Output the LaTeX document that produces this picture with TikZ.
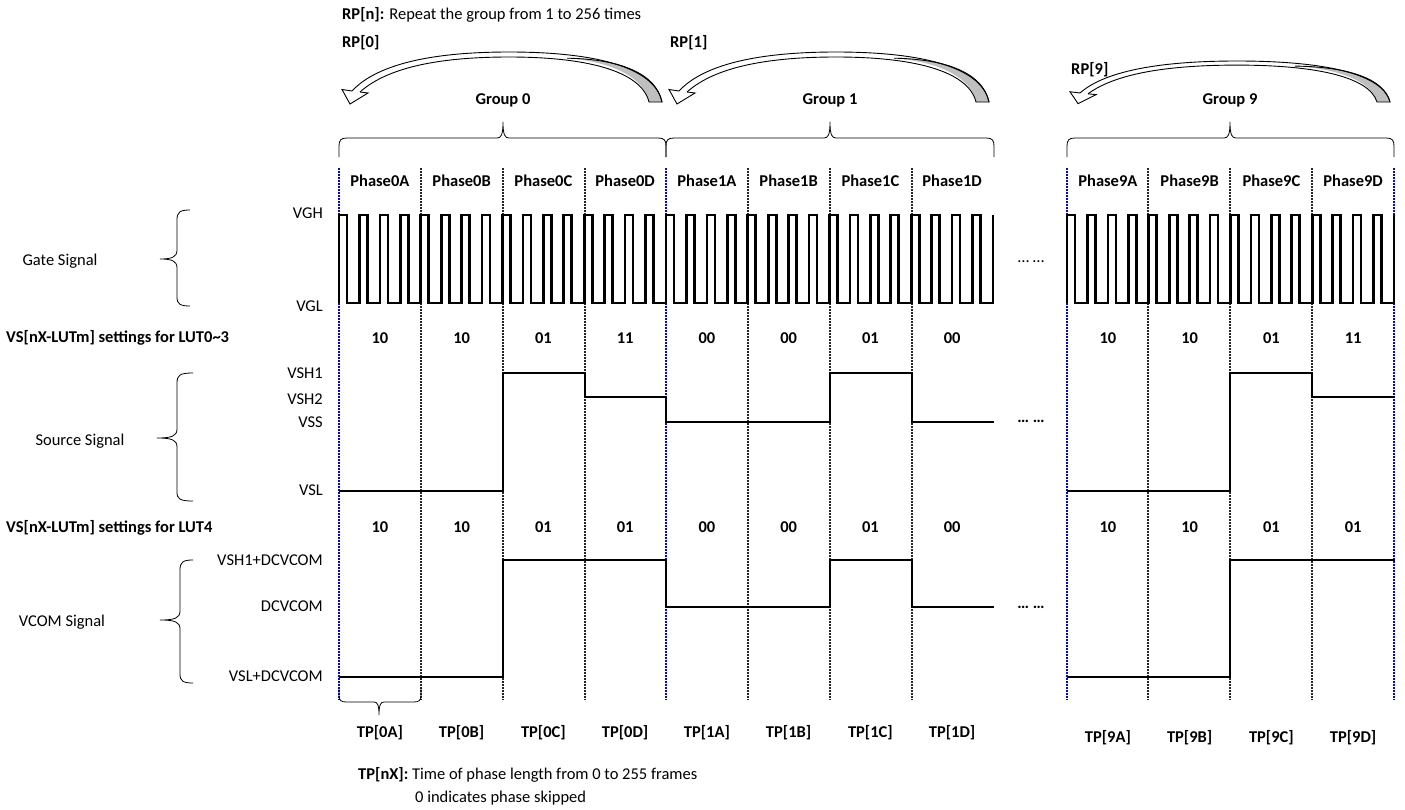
\documentclass[tikz,border=0pt]{standalone}
\usepackage{fontspec}
\setmainfont{Carlito}
\newcommand\myGrpArrow[2]{%
\begin{scope}[shift={(#1,102)}, yscale=#2, shift={(0,-102)}]
 \fill[gray!50] (228,58.2) .. controls (280,59) and (317,73) .. (323,102) -- (310,102) .. controls (305,78) and (275,62) .. (228,58.2) -- cycle;
 \draw[arr] (13,91) .. controls (40,62) and (100,52) .. (170,52) .. controls (250,52) and (315,65) .. (323,102) -- (310,102) .. controls (302,70) and (245,57) .. (170,57) .. controls (105,57) and (50,66) .. (21,92);
 \draw[arr] (13,91) -- (3,89.5) -- (11,104) -- (29,93) -- (21,92);
 \draw[arr] (228,58.2) .. controls (280,59) and (317,73) .. (323,102);
\end{scope}}
\newcommand\myTopBrace[3]{%
 \draw[brc] (#1,157) -- (#1,146) .. controls (#1,140) and (#1+2,138) .. (#1+8,138) -- (#2-6,138) .. controls (#2-2,138) and (#2,135) .. (#2,122) .. controls (#2,135) and (#2+2,138) .. (#2+6,138) -- (#3-8,138) .. controls (#3-2,138) and (#3,140) .. (#3,146) -- (#3,157);}
\newcommand\myLeftBrace[5]{%
 \draw[brc] (#1,#4) .. controls (#2+3,#4) and (#2,#4+2) .. (#2,#4+10) -- (#2,#5-9) .. controls (#2,#5-2) and (#2-5,#5) .. (#3,#5) .. controls (#2-5,#5) and (#2,#5+2) .. (#2,#5+9)}
\begin{document}
\begin{tikzpicture}[x=1pt,y=-1pt,
 t/.style={font=\fontsize{16.5}{19}\selectfont, inner sep=0pt},
 tb/.style={font=\fontsize{16.5}{19}\selectfont\bfseries, inner sep=0pt},
 sig/.style={line width=2.7pt, line join=miter},
 gdash/.style={line width=1.2pt, dash pattern=on 1.8pt off 1.2pt, black!85},
 bdash/.style={line width=1.3pt, dash pattern=on 1.8pt off 1.2pt, blue},
 brc/.style={line width=0.8pt},
 arr/.style={line width=0.9pt, line join=miter}]
\useasboundingbox (0,0) rectangle (1405,809);
\fill[white] (0,0) rectangle (1405,809);

% top texts
\node[t, anchor=west] (rpn) at (342,15) {\textbf{RP[n]:} Repeat the group from 1 to 256 times};
\node[tb, anchor=west] (rp0) at (342,43) {RP[0]};
\node[tb, anchor=west] (rp1) at (670,43) {RP[1]};
\node[tb, anchor=west] (rp9) at (1071,70) {RP[9]};
\myGrpArrow{339}{1}
\myGrpArrow{666}{1}
\myGrpArrow{1067}{0.82}
\node[tb] (g0) at (503,100) {Group 0};
\node[tb] (g1) at (830,100) {Group 1};
\node[tb] (g9) at (1230,100) {Group 9};
\myTopBrace{339}{503}{666}
\myTopBrace{666}{830}{994}
\myTopBrace{1067}{1230}{1394}

% vertical phase lines
\foreach \x in {421,503,585,748,830,912,1148,1230,1312}
 \draw[gdash] (\x,168) -- (\x,700);
\foreach \x in {339,666,1067,1394}
 \draw[bdash] (\x,168) -- (\x,700);

% phase labels
\foreach \p [count=\i from 0] in {0A,0B,0C,0D,1A,1B,1C,1D}
 \node[tb] (ph\p) at ({379.875+81.75*\i},181) {Phase\p};
\foreach \p [count=\i from 0] in {9A,9B,9C,9D}
 \node[tb] (ph\p) at ({1107.875+81.75*\i},181) {Phase\p};

% gate signal
\draw[sig] (339,303) \foreach \k in {0,...,31}{ -- ({339+\k*20.4375},303) -- ++(0,-88) -- ++(8,0) -- ++(0,88)} -- (993,303) -- (993,215);
\draw[sig] (1067,303) \foreach \k in {0,...,15}{ -- ({1067+\k*20.4375},303) -- ++(0,-88) -- ++(8,0) -- ++(0,88)} -- (1394,303) -- (1394,215);
\node[t] (gdots) at (1031,262) {…\ …};
\node[t, anchor=east] (vgh) at (323,213) {VGH};
\node[t, anchor=east] (vgl) at (323,306) {VGL};
\node[t] (gate) at (60,261) {Gate Signal};
\myLeftBrace{190}{177}{160}{210}{259} -- (177,297) .. controls (177,304) and (180,306) .. (190,306);

% LUT0~3 settings
\node[tb, anchor=west] (s03) at (6,338) {VS[nX-LUTm] settings for LUT0\textasciitilde3};
\foreach \v [count=\i from 0] in {10,10,01,11,00,00,01,00}
 \node[tb] (a\i) at ({379.875+81.75*\i},338) {\v};
\foreach \v [count=\i from 0] in {10,10,01,11}
 \node[tb] (b\i) at ({1107.875+81.75*\i},338) {\v};

% source signal
\node[t, anchor=east] (vsh1) at (323,373) {VSH1};
\node[t, anchor=east] (vsh2) at (323,399) {VSH2};
\node[t, anchor=east] (vss) at (323,422) {VSS};
\node[t, anchor=east] (vsl) at (323,490) {VSL};
\node[t] (src) at (80,441) {Source Signal};
\myLeftBrace{193}{177}{157}{373}{438} -- (177,492) .. controls (177,499) and (180,501) .. (193,501);
\draw[sig] (339,491) -- (503,491) -- (503,373) -- (585,373) -- (585,397) -- (666,397) -- (666,422) -- (830,422) -- (830,373) -- (912,373) -- (912,422) -- (994,422);
\draw[sig] (1067,491) -- (1230,491) -- (1230,373) -- (1312,373) -- (1312,397) -- (1395,397);
\node[tb] (sdots) at (1031,421) {…\ …};

% LUT4 settings
\node[tb, anchor=west] (s4) at (6,528) {VS[nX-LUTm] settings for LUT4};
\foreach \v [count=\i from 0] in {10,10,01,01,00,00,01,00}
 \node[tb] (c\i) at ({379.875+81.75*\i},527) {\v};
\foreach \v [count=\i from 0] in {10,10,01,01}
 \node[tb] (d\i) at ({1107.875+81.75*\i},527) {\v};

% VCOM signal
\node[t, anchor=east] (vh) at (323,560) {VSH1+DCVCOM};
\node[t, anchor=east] (vd) at (323,606) {DCVCOM};
\node[t, anchor=east] (vl) at (323,676) {VSL+DCVCOM};
\node[t] (vcom) at (62,622) {VCOM Signal};
\myLeftBrace{193}{180}{160}{560}{620} -- (180,674) .. controls (180,681) and (183,683) .. (193,683);
\draw[sig] (339,677) -- (503,677) -- (503,560) -- (666,560) -- (666,607) -- (830,607) -- (830,560) -- (912,560) -- (912,607) -- (994,607);
\draw[sig] (1067,677) -- (1230,677) -- (1230,560) -- (1395,560);
\node[tb] (vdots) at (1031,607) {…\ …};

% bottom brace and TP labels
\draw[brc] (339,688) -- (339,696) .. controls (339,700) and (341,702) .. (346,702) -- (374,702) .. controls (377,702) and (379,704) .. (379,715) .. controls (379,704) and (381,702) .. (384,702) -- (414,702) .. controls (419,702) and (421,700) .. (421,696) -- (421,688);
\foreach \p [count=\i from 0] in {0A,0B,0C,0D,1A,1B,1C,1D}
 \node[tb] (tp\p) at ({379.875+81.75*\i},733) {TP[\p]};
\foreach \p [count=\i from 0] in {9A,9B,9C,9D}
 \node[tb] (tp\p) at ({1107.875+81.75*\i},738) {TP[\p]};
\node[t, anchor=west] (tpn) at (358,775) {\textbf{TP[nX]:} Time of phase length from 0 to 255 frames};
\node[t, anchor=west] (skip) at (415,798) {0 indicates phase skipped};
\end{tikzpicture}
\end{document}
